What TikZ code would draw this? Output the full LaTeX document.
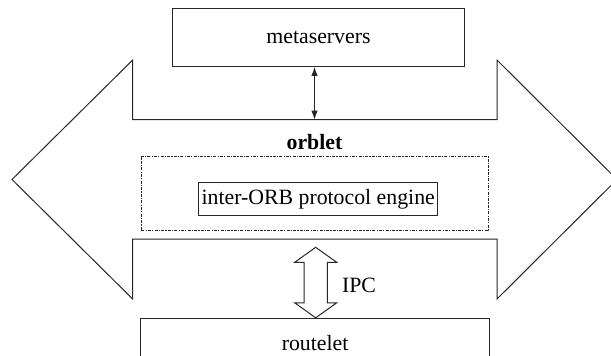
\documentclass[tikz,border=0pt]{standalone}
\usepackage{fontspec}
\setmainfont{Liberation Serif}
\usetikzlibrary{arrows.meta,calc}

\begin{document}
\begin{tikzpicture}[x=0.5pt,y=-0.5pt,
    outline/.style={draw=black!85, line width=0.5pt},
    box/.style={outline, inner sep=0pt},
    every node/.style={font=\fontsize{10.9}{13}\selectfont}]
        \path[use as bounding box, clip] (0,0) rectangle (611,355);

        \node [box, minimum width=145.8pt, minimum height=29.15pt] (meta) at (318.5,37.2) {metaservers};
        \node [font=\fontsize{10.9}{13}\selectfont\bfseries] (orblet) at (314.5,141.7) {orblet};
        \node [outline, dash pattern=on 1.5pt off 0.6pt on 0.6pt off 0.6pt, minimum width=173.7pt, minimum height=36.65pt] (frame) at (315,193.35) {};
        \node [box, minimum width=119.5pt, minimum height=16.15pt] (iop) at (318.2,198.9) {inter-ORB protocol engine};
        \node [box, minimum width=174.8pt, minimum height=30pt, text depth=0pt] (route) at (315.1,348.3) {};
        \node (routetext) at (315.1,342.7) {routelet};
        \node (ipc) at (359,285) {IPC};

        \draw[outline] (12,179.5) -- (132.7,60) -- (132.7,119.7) -- (497,119.7) -- (497,60)
            -- (617,179.5) -- (497,299) -- (497,239) -- (132.7,239) -- (132.7,299) -- cycle;

        \coordinate (notch) at (314.5,119.7);
        \draw[outline, {Latex[length=4.5pt,width=3.2pt]}-{Latex[length=4.5pt,width=3.2pt]}] (notch |- meta.south) -- (notch);

        \coordinate (ipctop) at (315.7,247.3);
        \coordinate (ipcbot) at (ipctop |- route.north);
        \draw[outline] (ipctop) -- ++(21,15) -- ++(-9.3,0) -- ($(ipcbot)+(11.7,-15)$) -- ++(9.3,0)
            -- (ipcbot) -- ++(-21,-15) -- ++(9.3,0) -- ($(ipctop)+(-11.7,15)$) -- ++(-9.3,0) -- cycle;
      \end{tikzpicture}
\end{document}
